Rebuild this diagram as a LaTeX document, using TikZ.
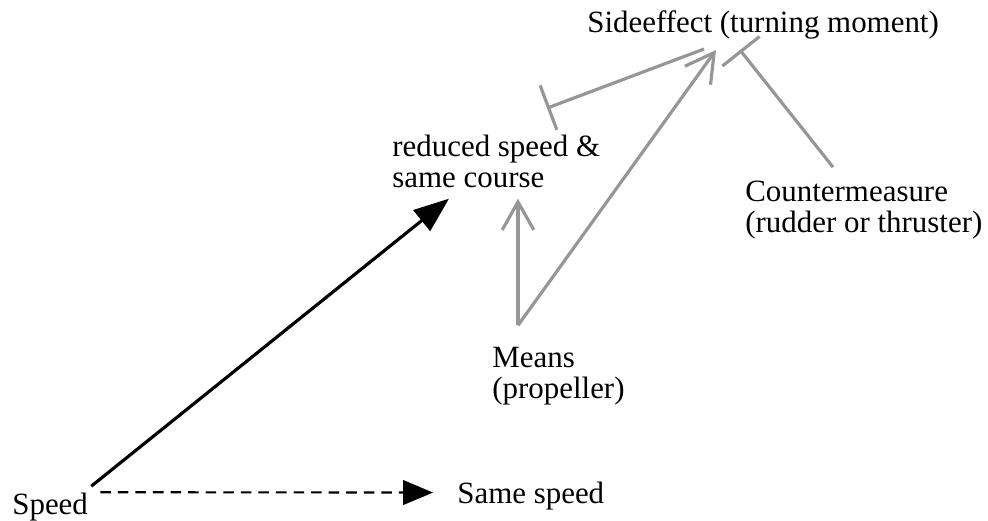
\documentclass[tikz,border=0pt]{standalone}
\usepackage{fontspec}
\setmainfont{Liberation Serif}
\usetikzlibrary{arrows.meta,calc}
\definecolor{linegray}{RGB}{150,150,150}

\begin{document}
\begin{tikzpicture}[x=0.02cm, y=-0.02cm,
    word/.style={inner sep=0pt, anchor=base west, align=left, font=\fontsize{17.6}{17.1}\selectfont}]
    \useasboundingbox (0,0) rectangle (988,521);

    \node[word] (side) at (587,32) {Sideeffect (turning moment)};
    \node[word] (reduced) at (392,187) {reduced speed \&\\same course};
    \node[word] (means) at (492,398) {Means\\(propeller)};
    \node[word] (counter) at (745,232) {Countermeasure\\(rudder or thruster)};
    \node[word] (speed) at (12,514) {Speed};
    \node[word] (same) at (457,503) {Same speed};

    \coordinate (fork) at ($(means.north west)+(26,-22)$);

    % speed change
    \draw[line width=1.8pt, -{Triangle[length=20pt,width=15pt]}] ($(speed.north east)+(3,-6)$) -- ($(reduced.south west)+(57,11)$);
    \draw[line width=1.2pt, dash pattern=on 6pt off 4pt, -{Triangle[length=17pt,width=14pt]}] ($(speed.north east)+(12,0)$) -- ($(same.west)+(-24,-3)$);

    % means and side effects
    \draw[linegray, line width=1.8pt, -{Straight Barb[length=16pt,width=18pt]}] (fork) -- ($(reduced.south west)+(126,11)$);
    \draw[linegray, line width=1.8pt, -{Straight Barb[length=16pt,width=18pt]}] (fork) -- ($(side.south west)+(129,11)$);
    \draw[linegray, line width=1.8pt, {Bar[width=27pt]}-] ($(reduced.north west)+(155,-27)$) -- ($(side.south west)+(117,10)$);
    \draw[linegray, line width=1.8pt, {Bar[width=27pt]}-] ($(side.south west)+(153,11)$) -- ($(counter.north west)+(88,-14)$);

\end{tikzpicture}
\end{document}
